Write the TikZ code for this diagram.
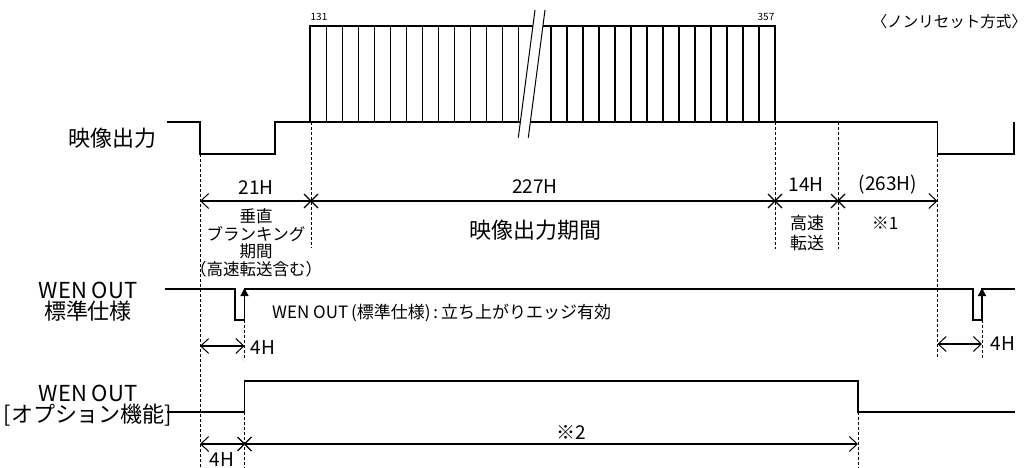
\documentclass[tikz,border=0pt]{standalone}
\usepackage{fontspec}
\setmainfont{Noto Sans CJK JP}
\usetikzlibrary{arrows.meta}
\begin{document}
\begin{tikzpicture}[x=1pt,y=-1pt,
  sig/.style={line width=1.3pt, line join=miter},
  pulse/.style={line width=1.1pt},
  dsh/.style={line width=0.9pt, dash pattern=on 3pt off 2pt},
  dim/.style={line width=1.1pt},
  barb/.tip={Straight Barb[length=8pt,width=15pt,line width=1pt]},
  edge/.tip={Triangle[length=8pt,width=8pt]},
  txt/.style={inner sep=0pt, font=\fontsize{#1}{#1}\selectfont},
  lbl/.style={inner sep=0pt, align=center, font=\fontsize{22}{21}\selectfont}
]
\useasboundingbox (0,0) rectangle (1029,468);

% ---------- main video signal ----------
\draw[sig] (167,122) -- (200,122) -- (200,154) -- (275,154) -- (275,122) -- (937.5,122) -- (937.5,154) -- (1014,154) -- (1014,122);
\draw[sig] (310,122) -- (310,26) -- (775,26) -- (775,122);
\foreach \i in {1,...,13} \draw[pulse] (310+16.05*\i,122) -- (310+16.05*\i,26);
\foreach \i in {0,...,13} \draw[pulse] (551+16*\i,122) -- (551+16*\i,26);
% break mark
\fill[white] (518.3,137.7) -- (535,10) -- (545,10) -- (528.3,137.7) -- cycle;
\draw[line width=1pt] (518.3,137.7) -- (535,10);
\draw[line width=1pt] (528.3,137.7) -- (545,10);

\node[txt=10] (n131) at (319,16.5) {131};
\node[txt=10] (n357) at (766,16.5) {357};
\node[txt=15.5, anchor=east] (mode) at (1027,22) {〈ノンリセット方式〉};
\node[txt=22] (lvideo) at (112,138) {映像出力};

% ---------- dashed guides ----------
\draw[dsh] (200,154) -- (200,468);
\draw[dsh] (311,122) -- (311,248);
\draw[dsh] (775,122) -- (775,249);
\draw[dsh] (838,122) -- (838,249);
\draw[dsh] (937.5,154) -- (937.5,359);
\draw[dsh] (244.5,320) -- (244.5,360);
\draw[dsh] (982,320) -- (982,359);
\draw[dsh] (244.5,412) -- (244.5,468);
\draw[dsh] (858,412) -- (858,468);

% ---------- main dimension line ----------
\draw[dim, barb-barb] (200,201) -- (937.5,201);
\foreach \cx/\cy in {311/201, 775/201, 838/201, 244.5/444}
  \draw[dim] (\cx-7,\cy-7) -- (\cx+7,\cy+7) (\cx-7,\cy+7) -- (\cx+7,\cy-7);

\node[txt=19] (d21) at (256,188) {21H};
\node[txt=19] (d227) at (535,187) {227H};
\node[txt=19] (d14) at (806,185) {14H};
\node[txt=19] (d263) at (888,185) {(263H)};
\node[inner sep=0pt, align=center, font=\fontsize{16.5}{17.5}\selectfont] (blank) at (256,243)
  {垂直\\ブランキング\\期間\\（高速転送含む）};
\node[txt=22] (period) at (535,230) {映像出力期間};
\node[inner sep=0pt, align=center, font=\fontsize{17}{20}\selectfont] (fast) at (807,233) {高速\\転送};
\node[txt=17] (note1) at (885,223) {※1};

% ---------- WEN OUT standard ----------
\node[lbl] (lwen) at (88,302) {WEN OUT\\標準仕様};
\draw[sig] (165,289) -- (235,289) -- (235,320) -- (244.5,320) -- (244.5,289) -- (973,289) -- (973,320) -- (982,320) -- (982,289) -- (1015,289);
\draw[sig, -edge] (244.5,306) -- (244.5,288);
\draw[sig, -edge] (982,306) -- (982,288);
\node[txt=17, anchor=west] (wentxt) at (272,313) {WEN OUT\,(標準仕様)\,:\,立ち上がりエッジ有効};
\draw[dim, barb-barb] (200,346) -- (244.5,346);
\node[txt=19] (h4a) at (263,348) {4H};
\draw[dim, barb-barb] (937.5,344) -- (982,344);
\node[txt=19] (h4b) at (1003,344) {4H};

% ---------- WEN OUT option ----------
\node[lbl] (lopt) at (88,406) {WEN OUT\\{}[オプション機能]};
\draw[sig] (167,412) -- (244.5,412) -- (244.5,381) -- (858,381) -- (858,412) -- (1015,412);
\draw[dim, barb-barb] (200,444) -- (858,444);
\node[txt=19] (h4c) at (222,460) {4H};
\node[txt=19] (note2) at (571,432) {※2};
\end{tikzpicture}
\end{document}
